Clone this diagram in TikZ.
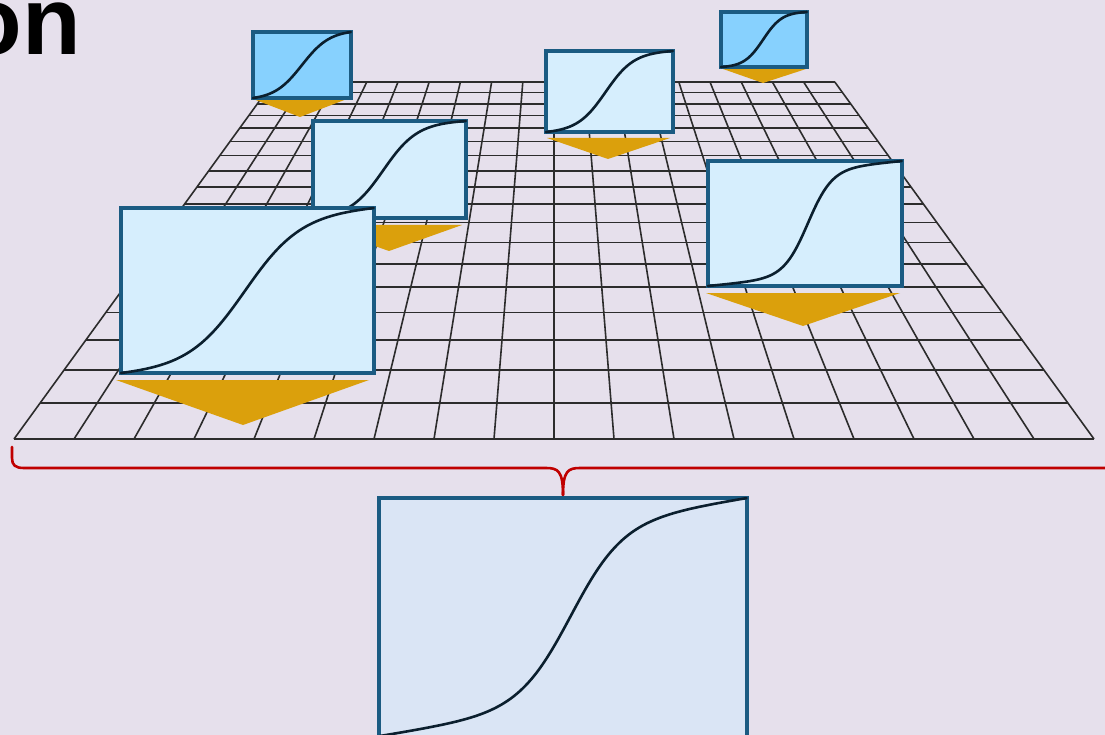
\documentclass[tikz,border=0pt]{standalone}
\usepackage{fontspec}
\setmainfont{Liberation Sans}
\definecolor{bg}{HTML}{E6E0EC}
\definecolor{boxc}{HTML}{1B5B82}
\definecolor{skyf}{HTML}{87D1FE}
\definecolor{lightf}{HTML}{D6EEFD}
\definecolor{bottomf}{HTML}{DAE5F5}
\definecolor{curvec}{HTML}{0B1F2E}
\definecolor{trif}{HTML}{DBA00C}
\definecolor{bracec}{HTML}{C00000}
\definecolor{gridc}{HTML}{2C2C2C}
\newcommand\sigplot[7]{%
  \draw[sig] plot[domain=0:1, samples=100, variable=\t, smooth] ({#1+#3*\t},{#2-#4*((1-#7)*sg(\t,#5,#6)+#7*\t)});}
\begin{document}
\begin{tikzpicture}[x=1pt,y=-1pt,
  declare function={lgs(\u)=1/(1+exp(-\u));
    sg(\v,\c,\s)=(lgs(\s*(\v-\c))-lgs(-\s*\c))/(lgs(\s*(1-\c))-lgs(-\s*\c));},
  gridline/.style={draw=gridc, line width=1.6pt},
  thumb/.style={draw=boxc, line width=3.2pt, rectangle, inner sep=0pt, outer sep=0pt},
  sig/.style={draw=curvec, line width=2.6pt, line cap=round, line join=round},
  arrowtri/.style={fill=trif},
  bracepath/.style={draw=bracec, line width=2.6pt, line cap=round, line join=round}]
\useasboundingbox (0,0) rectangle (1105,735);
\fill[bg] (0,0) rectangle (1105,735);
\begin{scope}
\clip (0,0) rectangle (1105,735);
% title fragment
\node[font=\fontsize{96}{96}\selectfont\bfseries, anchor=base east, inner sep=0pt] (title) at (81,55) {on};
% perspective grid
\foreach \k in {0,...,18}{
  \pgfmathsetmacro{\yy}{-304.7+743.7/(1+0.05128*\k)}
  \pgfmathsetmacro{\hw}{540/(1+0.05128*\k)}
  \draw[gridline] ({554-\hw},\yy) -- ({554+\hw},\yy);
}
\foreach \i in {0,...,18}{
  \draw[gridline] ({14+60*\i},439) -- ({273.2+31.2*\i},82);
}
% box A
\fill[arrowtri] (253,99) -- (347,99) -- (300,117) -- cycle;
\node[thumb, fill=skyf, minimum width=98pt, minimum height=66pt] (A) at (302,65) {};
\sigplot{253}{98}{98}{66}{0.5}{7}{0}
% box B
\fill[arrowtri] (723,69) -- (806,69) -- (763,83) -- cycle;
\node[thumb, fill=skyf, minimum width=86pt, minimum height=55pt] (B) at (764,39.5) {};
\sigplot{721}{67}{86}{55}{0.49}{9}{0}
% box C
\fill[arrowtri] (547,138) -- (670,138) -- (608,159) -- cycle;
\node[thumb, fill=lightf, minimum width=127pt, minimum height=81pt] (C) at (609.5,91.5) {};
\sigplot{546}{132}{127}{81}{0.47}{9}{0.05}
% box D
\fill[arrowtri] (315,225) -- (462,225) -- (389,251) -- cycle;
\node[thumb, fill=lightf, minimum width=153pt, minimum height=97pt] (D) at (389.5,169.5) {};
\sigplot{313}{218}{153}{97}{0.46}{9}{0.05}
% box F
\fill[arrowtri] (706,293) -- (900,293) -- (803,326) -- cycle;
\node[thumb, fill=lightf, minimum width=194pt, minimum height=125pt] (F) at (805,223.5) {};
\sigplot{708}{286}{194}{125}{0.515}{16}{0.15}
% box E
\fill[arrowtri] (116,380) -- (369,380) -- (243,425) -- cycle;
\node[thumb, fill=lightf, minimum width=253pt, minimum height=165pt] (E) at (247.5,290.5) {};
\sigplot{121}{373}{253}{165}{0.49}{9}{0.1}
% brace
\coordinate (bl) at (12,447);
\coordinate (tip) at (563,495);
\coordinate (br) at (1125,468);
\draw[bracepath] (bl) -- (12,458) .. controls (12,465) and (15,468) .. (24,468) -- (546,468) .. controls (558,468) and (563,471) .. (tip);
\draw[bracepath] (tip) .. controls (563,471) and (568,468) .. (580,468) -- (br);
% bottom box G
\node[thumb, fill=bottomf, minimum width=368pt, minimum height=244pt] (G) at (563,620) {};
\sigplot{380}{736}{367}{238}{0.52}{14}{0.25}
\end{scope}
\end{tikzpicture}
\end{document}
